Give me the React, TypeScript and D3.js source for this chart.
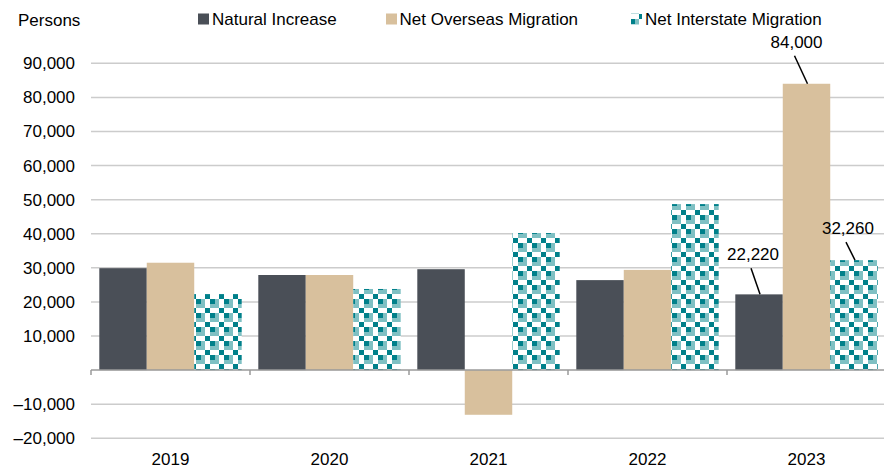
import React from "react";
import * as d3 from "d3";

const years = ["2019", "2020", "2021", "2022", "2023"];
const seriesNames = ["Natural Increase", "Net Overseas Migration", "Net Interstate Migration"];
const naturalIncrease = [29900, 27900, 29600, 26400, 22220];
const netOverseas = [31500, 27900, -13100, 29400, 84000];
const netInterstate = [22300, 23800, 40200, 48700, 32260];
const yTicks = [-20000, -10000, 10000, 20000, 30000, 40000, 50000, 60000, 70000, 80000, 90000];
const annotations = [
  { year: "2023", series: 0, value: 22220, text: "22,220", dx: -6, dy: -34 },
  { year: "2023", series: 1, value: 84000, text: "84,000", dx: -10, dy: -36 },
  { year: "2023", series: 2, value: 32260, text: "32,260", dx: -6, dy: -26 },
];

const W = 884;
const H = 471;
const FONT = "'Liberation Sans', Arial, sans-serif";
const DARK = "#4a4f57";
const TAN = "#d8c09d";
const TEAL = "#00808a";
const LTEAL = "#7fc0c3";

export default function App() {
  const x = d3.scaleBand<string>().domain(years).range([91, 886]).padding(0);
  const inner = d3
    .scaleBand<number>()
    .domain([0, 1, 2])
    .range([8.3, x.bandwidth() - 8.3])
    .padding(0);
  const y = d3.scaleLinear().domain([-20000, 90000]).range([438.3, 63.3]);
  const fmt = (v: number) => (v < 0 ? "\u2013" : "") + d3.format(",")(Math.abs(v));
  const data = [naturalIncrease, netOverseas, netInterstate];
  const fills = [DARK, TAN, "url(#checker)"];
  const y0 = y(0);

  return (
    <svg
      width={W}
      height={H}
      style={{ position: "fixed", left: 0, top: 0, background: "#fff", fontFamily: FONT }}
    >
      <defs>
        <pattern id="checker" patternUnits="userSpaceOnUse" width={14} height={14}>
          <rect width={14} height={14} fill="#fff" />
          <rect x={0} y={5} width={9} height={9} fill={LTEAL} />
          <rect x={0} y={5} width={5} height={5} fill={TEAL} />
          <rect x={9} y={0} width={5} height={5} fill={TEAL} />
        </pattern>
      </defs>
      <rect width={W} height={H} fill="#fff" />
      {yTicks.map((t) => (
        <line key={t} x1={91} x2={W} y1={y(t)} y2={y(t)} stroke="#cccccc" strokeWidth={1.5} />
      ))}
      {yTicks.map((t) => (
        <text key={"l" + t} x={75} y={y(t)} dy="0.35em" textAnchor="end" fontSize={17} fill="#000">
          {fmt(t)}
        </text>
      ))}
      <text x={18} y={26} fontSize={17} fill="#000">
        Persons
      </text>
      {data.map((vals, si) =>
        vals.map((v, i) => {
          const bx = (x(years[i]) as number) + (inner(si) as number);
          const top = Math.min(y(v), y0);
          const h = Math.abs(y(v) - y0);
          return (
            <rect
              key={si + "-" + i}
              x={bx}
              y={top}
              width={inner.bandwidth()}
              height={h}
              fill={fills[si]}
            />
          );
        })
      )}
      <line x1={91} x2={W} y1={y0} y2={y0} stroke="#9a9a9a" strokeWidth={1.5} />
      {[...years.map((yr) => x(yr) as number), 886].map((bx, i) => (
        <line key={"t" + i} x1={bx} x2={bx} y1={y0} y2={y0 + 5} stroke="#9a9a9a" strokeWidth={1.5} />
      ))}
      {years.map((yr) => (
        <text
          key={"x" + yr}
          x={(x(yr) as number) + x.bandwidth() / 2}
          y={465}
          textAnchor="middle"
          fontSize={17}
          fill="#000"
        >
          {yr}
        </text>
      ))}
      {annotations.map((a, k) => {
        const cx = (x(a.year) as number) + (inner(a.series) as number) + inner.bandwidth() / 2;
        const cy = y(a.value);
        const tx = cx + a.dx;
        const ty = cy + a.dy;
        return (
          <g key={"a" + k}>
            <line x1={tx - 2} y1={ty + 8} x2={cx + 1} y2={cy} stroke="#000" strokeWidth={1.5} />
            <text x={tx} y={ty} textAnchor="middle" fontSize={17} fill="#000">
              {a.text}
            </text>
          </g>
        );
      })}
      <g fontSize={17} fill="#000">
        <rect x={198} y={13.5} width={11} height={11} fill={DARK} />
        <text x={212} y={25}>{seriesNames[0]}</text>
        <rect x={386} y={13.5} width={11} height={11} fill={TAN} />
        <text x={399.5} y={25}>{seriesNames[1]}</text>
        <rect x={631} y={13.5} width={11} height={11} fill="url(#checker)" />
        <text x={645} y={25}>{seriesNames[2]}</text>
      </g>
    </svg>
  );
}
